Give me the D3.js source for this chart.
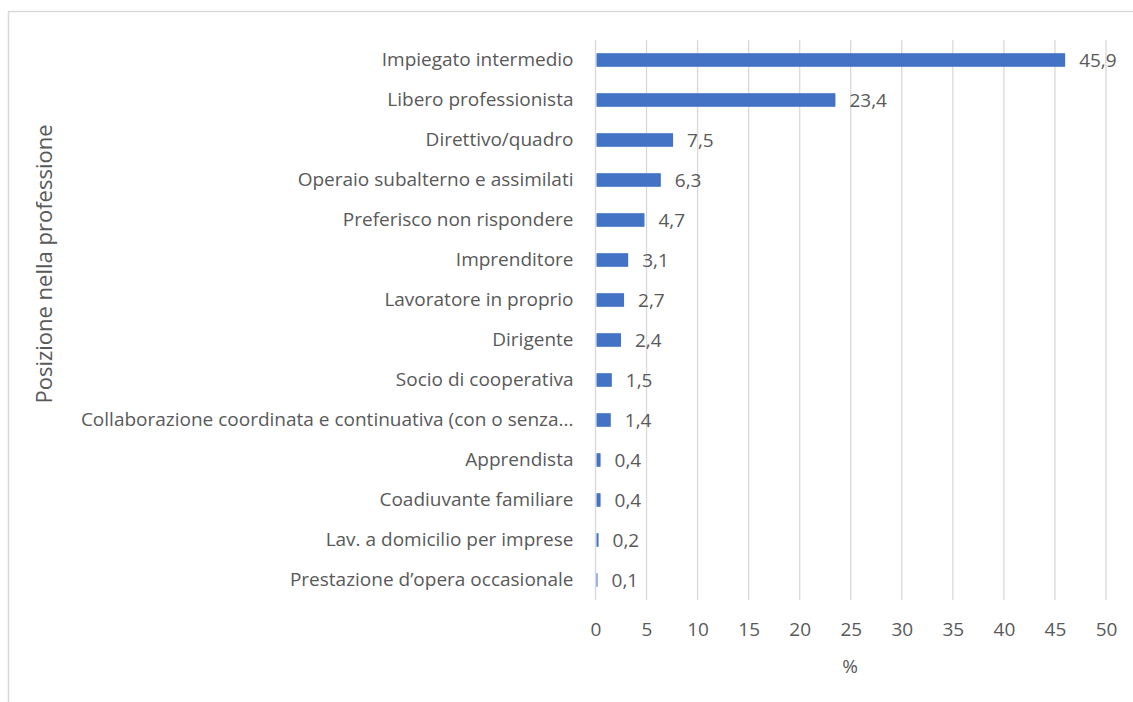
<!DOCTYPE html>
<html>
<head>
<meta charset="utf-8">
<script src="https://cdn.jsdelivr.net/npm/d3@7"></script>
<style>
  body { margin: 0; background: #fff; }
  text { font-family: "Open Sans", sans-serif; fill: #595959; }
</style>
</head>
<body>
<svg id="chart" width="1133" height="702"></svg>
<script>
// data
let categories = [
    "Impiegato intermedio",
    "Libero professionista",
    "Direttivo/quadro",
    "Operaio subalterno e assimilati",
    "Preferisco non rispondere",
    "Imprenditore",
    "Lavoratore in proprio",
    "Dirigente",
    "Socio di cooperativa",
    "Collaborazione coordinata e continuativa (con o senza...",
    "Apprendista",
    "Coadiuvante familiare",
    "Lav. a domicilio per imprese",
    "Prestazione d\u2019opera occasionale"
]
let values = [45.9, 23.4, 7.5, 6.3, 4.7, 3.1, 2.7, 2.4, 1.5, 1.4, 0.4, 0.4, 0.2, 0.1]
let ticks = [0, 5, 10, 15, 20, 25, 30, 35, 40, 45, 50]

let svg = d3.select("#chart")

// chart border
svg.append("rect")
    .attr("x", 8.5).attr("y", 11.5)
    .attr("width", 1140).attr("height", 700)
    .attr("fill", "none")
    .attr("stroke", "#d9d9d9")
    .attr("stroke-width", 1.5)

let plot = { left: 595.5, right: 1106, top: 40, bottom: 600 }

let xScale = d3.scaleLinear()
    .domain([0, 50])
    .range([plot.left, plot.right])

let yScale = d3.scaleBand()
    .domain(categories)
    .range([plot.top, plot.bottom])
    .paddingInner(0.66)
    .paddingOuter(0.33)

// gridlines
svg.append("g")
    .selectAll("line")
    .data(ticks)
    .enter()
    .append("line")
    .attr("x1", d => xScale(d)).attr("x2", d => xScale(d))
    .attr("y1", plot.top).attr("y2", plot.bottom)
    .attr("stroke", "#d9d9d9")
    .attr("stroke-width", 1.3)

// x axis labels
let xAxis = d3.axisBottom(xScale).tickValues(ticks).tickSize(0).tickPadding(0)
let xg = svg.append("g")
    .attr("transform", "translate(0," + 636 + ")")
    .call(xAxis)
xg.select(".domain").remove()
xg.selectAll("text")
    .attr("dy", 0)
    .style("font-size", "19px")
    .style("font-family", null)
    .attr("fill", null)

// category labels
let yAxis = d3.axisLeft(yScale).tickSize(0).tickPadding(22)
let yg = svg.append("g")
    .attr("transform", "translate(" + plot.left + ",0)")
    .call(yAxis)
yg.select(".domain").remove()
yg.selectAll("text")
    .style("font-size", "19px")
    .style("font-family", null)
    .attr("fill", null)

// bars
svg.selectAll("rect.bar")
    .data(values)
    .enter()
    .append("rect")
    .attr("class", "bar")
    .attr("x", xScale(0) + 1)
    .attr("y", (d, i) => yScale(categories[i]))
    .attr("width", d => xScale(d) - xScale(0))
    .attr("height", yScale.bandwidth())
    .attr("fill", "#4472c4")

// value labels
let fmt = d => d.toFixed(1).replace(".", ",")
svg.selectAll("text.val")
    .data(values)
    .enter()
    .append("text")
    .attr("class", "val")
    .attr("x", d => xScale(d) + 15)
    .attr("y", (d, i) => yScale(categories[i]) + yScale.bandwidth() / 2)
    .attr("dy", "0.35em")
    .style("font-size", "19px")
    .text(fmt)

// axis titles
svg.append("text")
    .attr("x", 850)
    .attr("y", 673)
    .attr("text-anchor", "middle")
    .style("font-size", "19px")
    .text("%")

svg.append("text")
    .attr("transform", "translate(52,264) rotate(-90)")
    .attr("text-anchor", "middle")
    .style("font-size", "22px")
    .text("Posizione nella professione")
</script>
</body>
</html>
